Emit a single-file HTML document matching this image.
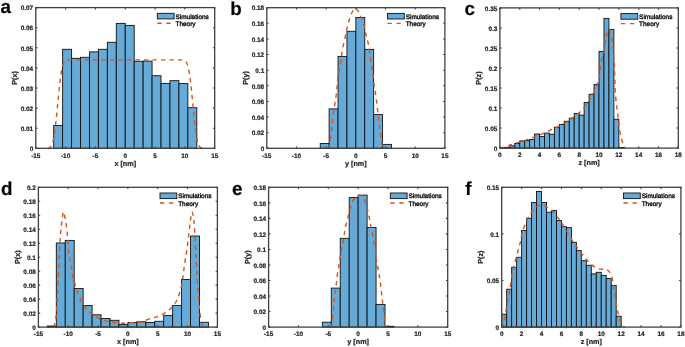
<!DOCTYPE html>
<html><head><meta charset="utf-8"><style>
html,body{margin:0;padding:0;background:#fff;}
body{width:685px;height:347px;overflow:hidden;}
svg{display:block;will-change:transform;filter:blur(0.45px);}
text{font-family:"Liberation Sans", sans-serif;fill:#262626;stroke:#262626;stroke-width:0.22px;text-rendering:geometricPrecision;}
.t{font-size:6.4px;font-weight:bold;}
.l{font-size:7.25px;font-weight:bold;}
.g{font-size:6.45px;font-weight:normal;fill:#111;stroke:#111;stroke-width:0.38px;}
.L{font-size:18.8px;font-weight:bold;fill:#000;}
</style></head><body>
<svg width="685" height="347" viewBox="0 0 685 347">
<rect width="685" height="347" fill="#fff"/>
<rect x="53.69" y="125.50" width="8.94" height="22.80" fill="#66aad7" stroke="#111" stroke-width="0.9"/>
<rect x="62.63" y="49.30" width="8.95" height="99.00" fill="#66aad7" stroke="#111" stroke-width="0.9"/>
<rect x="71.58" y="58.30" width="8.94" height="90.00" fill="#66aad7" stroke="#111" stroke-width="0.9"/>
<rect x="80.52" y="57.30" width="8.95" height="91.00" fill="#66aad7" stroke="#111" stroke-width="0.9"/>
<rect x="89.47" y="51.90" width="8.94" height="96.40" fill="#66aad7" stroke="#111" stroke-width="0.9"/>
<rect x="98.41" y="49.30" width="8.95" height="99.00" fill="#66aad7" stroke="#111" stroke-width="0.9"/>
<rect x="107.36" y="42.30" width="8.94" height="106.00" fill="#66aad7" stroke="#111" stroke-width="0.9"/>
<rect x="116.30" y="23.40" width="8.94" height="124.90" fill="#66aad7" stroke="#111" stroke-width="0.9"/>
<rect x="125.25" y="25.40" width="8.95" height="122.90" fill="#66aad7" stroke="#111" stroke-width="0.9"/>
<rect x="134.19" y="61.30" width="8.94" height="87.00" fill="#66aad7" stroke="#111" stroke-width="0.9"/>
<rect x="143.14" y="61.10" width="8.94" height="87.20" fill="#66aad7" stroke="#111" stroke-width="0.9"/>
<rect x="152.08" y="75.70" width="8.94" height="72.60" fill="#66aad7" stroke="#111" stroke-width="0.9"/>
<rect x="161.03" y="83.40" width="8.94" height="64.90" fill="#66aad7" stroke="#111" stroke-width="0.9"/>
<rect x="169.97" y="80.70" width="8.95" height="67.60" fill="#66aad7" stroke="#111" stroke-width="0.9"/>
<rect x="178.92" y="83.60" width="8.94" height="64.70" fill="#66aad7" stroke="#111" stroke-width="0.9"/>
<rect x="187.87" y="107.70" width="8.94" height="40.60" fill="#66aad7" stroke="#111" stroke-width="0.9"/>
<path d="M47.73,148.17 C47.83,148.16 48.12,148.12 48.32,148.08 C48.52,148.03 48.72,147.99 48.92,147.92 C49.12,147.85 49.32,147.77 49.52,147.66 C49.71,147.55 49.91,147.43 50.11,147.27 C50.31,147.10 50.51,146.92 50.71,146.68 C50.91,146.44 51.11,146.17 51.30,145.82 C51.50,145.48 51.70,145.09 51.90,144.62 C52.10,144.15 52.30,143.61 52.50,142.98 C52.70,142.35 52.89,141.64 53.09,140.82 C53.29,140.00 53.49,139.09 53.69,138.06 C53.89,137.03 54.09,135.90 54.29,134.65 C54.49,133.40 54.68,132.03 54.88,130.55 C55.08,129.08 55.28,127.48 55.48,125.80 C55.68,124.12 55.88,122.32 56.08,120.45 C56.27,118.59 56.47,116.62 56.67,114.63 C56.87,112.63 57.07,110.55 57.27,108.48 C57.47,106.41 57.67,104.28 57.86,102.19 C58.06,100.10 58.26,98.00 58.46,95.96 C58.66,93.93 58.86,91.91 59.06,89.99 C59.26,88.06 59.45,86.19 59.65,84.43 C59.85,82.67 60.05,80.99 60.25,79.43 C60.45,77.87 60.65,76.41 60.85,75.07 C61.04,73.73 61.24,72.50 61.44,71.38 C61.64,70.27 61.84,69.27 62.04,68.37 C62.24,67.47 62.44,66.68 62.63,65.98 C62.83,65.27 63.03,64.67 63.23,64.14 C63.43,63.61 63.63,63.16 63.83,62.77 C64.03,62.38 64.23,62.07 64.42,61.79 C64.62,61.51 64.82,61.29 65.02,61.10 C65.22,60.91 65.42,60.76 65.62,60.64 C65.82,60.51 66.01,60.41 66.21,60.33 C66.41,60.25 66.61,60.19 66.81,60.14 C67.01,60.09 67.21,60.05 67.41,60.02 C67.60,59.99 67.80,59.97 68.00,59.95 C68.20,59.93 68.40,59.92 68.60,59.91 C68.80,59.90 69.00,59.89 69.19,59.89 C69.39,59.88 69.59,59.88 69.79,59.87 C69.99,59.87 70.19,59.87 70.39,59.87 C70.59,59.86 70.78,59.86 70.98,59.86 C71.18,59.86 71.38,59.86 71.58,59.86 C71.78,59.86 71.98,59.86 72.18,59.86 C72.38,59.86 72.57,59.86 72.77,59.86 C72.97,59.86 73.17,59.86 73.37,59.86 C73.57,59.86 73.77,59.86 73.97,59.86 C74.16,59.86 74.36,59.86 74.56,59.86 C74.76,59.86 74.96,59.86 75.16,59.86 C75.36,59.86 75.56,59.86 75.75,59.86 C75.95,59.86 76.15,59.86 76.35,59.86 C76.55,59.86 76.75,59.86 76.95,59.86 C77.15,59.86 77.34,59.86 77.54,59.86 C77.74,59.86 77.94,59.86 78.14,59.86 C78.34,59.86 78.54,59.86 78.74,59.86 C78.93,59.86 79.13,59.86 79.33,59.86 C79.53,59.86 79.73,59.86 79.93,59.86 C80.13,59.86 80.33,59.86 80.52,59.86 C80.72,59.86 80.92,59.86 81.12,59.86 C81.32,59.86 81.52,59.86 81.72,59.86 C81.92,59.86 82.12,59.86 82.31,59.86 C82.51,59.86 82.71,59.86 82.91,59.86 C83.11,59.86 83.31,59.86 83.51,59.86 C83.71,59.86 83.90,59.86 84.10,59.86 C84.30,59.86 84.50,59.86 84.70,59.86 C84.90,59.86 85.10,59.86 85.30,59.86 C85.49,59.86 85.69,59.86 85.89,59.86 C86.09,59.86 86.29,59.86 86.49,59.86 C86.69,59.86 86.89,59.86 87.08,59.86 C87.28,59.86 87.48,59.86 87.68,59.86 C87.88,59.86 88.08,59.86 88.28,59.86 C88.48,59.86 88.67,59.86 88.87,59.86 C89.07,59.86 89.27,59.86 89.47,59.86 C89.67,59.86 89.87,59.86 90.07,59.86 C90.27,59.86 90.46,59.86 90.66,59.86 C90.86,59.86 91.06,59.86 91.26,59.86 C91.46,59.86 91.66,59.86 91.86,59.86 C92.05,59.86 92.25,59.86 92.45,59.86 C92.65,59.86 92.85,59.86 93.05,59.86 C93.25,59.86 93.45,59.86 93.64,59.86 C93.84,59.86 94.04,59.86 94.24,59.86 C94.44,59.86 94.64,59.86 94.84,59.86 C95.04,59.86 95.23,59.86 95.43,59.86 C95.63,59.86 95.83,59.86 96.03,59.86 C96.23,59.86 96.43,59.86 96.63,59.86 C96.82,59.86 97.02,59.86 97.22,59.86 C97.42,59.86 97.62,59.86 97.82,59.86 C98.02,59.86 98.22,59.86 98.41,59.86 C98.61,59.86 98.81,59.86 99.01,59.86 C99.21,59.86 99.41,59.86 99.61,59.86 C99.81,59.86 100.01,59.86 100.20,59.86 C100.40,59.86 100.60,59.86 100.80,59.86 C101.00,59.86 101.20,59.86 101.40,59.86 C101.60,59.86 101.79,59.86 101.99,59.86 C102.19,59.86 102.39,59.86 102.59,59.86 C102.79,59.86 102.99,59.86 103.19,59.86 C103.38,59.86 103.58,59.86 103.78,59.86 C103.98,59.86 104.18,59.86 104.38,59.86 C104.58,59.86 104.78,59.86 104.97,59.86 C105.17,59.86 105.37,59.86 105.57,59.86 C105.77,59.86 105.97,59.86 106.17,59.86 C106.37,59.86 106.56,59.86 106.76,59.86 C106.96,59.86 107.16,59.86 107.36,59.86 C107.56,59.86 107.76,59.86 107.96,59.86 C108.16,59.86 108.35,59.86 108.55,59.86 C108.75,59.86 108.95,59.86 109.15,59.86 C109.35,59.86 109.55,59.86 109.75,59.86 C109.94,59.86 110.14,59.86 110.34,59.86 C110.54,59.86 110.74,59.86 110.94,59.86 C111.14,59.86 111.34,59.86 111.53,59.86 C111.73,59.86 111.93,59.86 112.13,59.86 C112.33,59.86 112.53,59.86 112.73,59.86 C112.93,59.86 113.12,59.86 113.32,59.86 C113.52,59.86 113.72,59.86 113.92,59.86 C114.12,59.86 114.32,59.86 114.52,59.86 C114.71,59.86 114.91,59.86 115.11,59.86 C115.31,59.86 115.51,59.86 115.71,59.86 C115.91,59.86 116.11,59.86 116.30,59.86 C116.50,59.86 116.70,59.86 116.90,59.86 C117.10,59.86 117.30,59.86 117.50,59.86 C117.70,59.86 117.90,59.86 118.09,59.86 C118.29,59.86 118.49,59.86 118.69,59.86 C118.89,59.86 119.09,59.86 119.29,59.86 C119.49,59.86 119.68,59.86 119.88,59.86 C120.08,59.86 120.28,59.86 120.48,59.86 C120.68,59.86 120.88,59.86 121.08,59.86 C121.27,59.86 121.47,59.86 121.67,59.86 C121.87,59.86 122.07,59.86 122.27,59.86 C122.47,59.86 122.67,59.86 122.86,59.86 C123.06,59.86 123.26,59.86 123.46,59.86 C123.66,59.86 123.86,59.86 124.06,59.86 C124.26,59.86 124.45,59.86 124.65,59.86 C124.85,59.86 125.05,59.86 125.25,59.86 C125.45,59.86 125.65,59.86 125.85,59.86 C126.05,59.86 126.24,59.86 126.44,59.86 C126.64,59.86 126.84,59.86 127.04,59.86 C127.24,59.86 127.44,59.86 127.64,59.86 C127.83,59.86 128.03,59.86 128.23,59.86 C128.43,59.86 128.63,59.86 128.83,59.86 C129.03,59.86 129.23,59.86 129.42,59.86 C129.62,59.86 129.82,59.86 130.02,59.86 C130.22,59.86 130.42,59.86 130.62,59.86 C130.82,59.86 131.01,59.86 131.21,59.86 C131.41,59.86 131.61,59.86 131.81,59.86 C132.01,59.86 132.21,59.86 132.41,59.86 C132.60,59.86 132.80,59.86 133.00,59.86 C133.20,59.86 133.40,59.86 133.60,59.86 C133.80,59.86 134.00,59.86 134.19,59.86 C134.39,59.86 134.59,59.86 134.79,59.86 C134.99,59.86 135.19,59.86 135.39,59.86 C135.59,59.86 135.79,59.86 135.98,59.86 C136.18,59.86 136.38,59.86 136.58,59.86 C136.78,59.86 136.98,59.86 137.18,59.86 C137.38,59.86 137.57,59.86 137.77,59.86 C137.97,59.86 138.17,59.86 138.37,59.86 C138.57,59.86 138.77,59.86 138.97,59.86 C139.16,59.86 139.36,59.86 139.56,59.86 C139.76,59.86 139.96,59.86 140.16,59.86 C140.36,59.86 140.56,59.86 140.75,59.86 C140.95,59.86 141.15,59.86 141.35,59.86 C141.55,59.86 141.75,59.86 141.95,59.86 C142.15,59.86 142.34,59.86 142.54,59.86 C142.74,59.86 142.94,59.86 143.14,59.86 C143.34,59.86 143.54,59.86 143.74,59.86 C143.94,59.86 144.13,59.86 144.33,59.86 C144.53,59.86 144.73,59.86 144.93,59.86 C145.13,59.86 145.33,59.86 145.53,59.86 C145.72,59.86 145.92,59.86 146.12,59.86 C146.32,59.86 146.52,59.86 146.72,59.86 C146.92,59.86 147.12,59.86 147.31,59.86 C147.51,59.86 147.71,59.86 147.91,59.86 C148.11,59.86 148.31,59.86 148.51,59.86 C148.71,59.86 148.90,59.86 149.10,59.86 C149.30,59.86 149.50,59.86 149.70,59.86 C149.90,59.86 150.10,59.86 150.30,59.86 C150.49,59.86 150.69,59.86 150.89,59.86 C151.09,59.86 151.29,59.86 151.49,59.86 C151.69,59.86 151.89,59.86 152.08,59.86 C152.28,59.86 152.48,59.86 152.68,59.86 C152.88,59.86 153.08,59.86 153.28,59.86 C153.48,59.86 153.68,59.86 153.87,59.86 C154.07,59.86 154.27,59.86 154.47,59.86 C154.67,59.86 154.87,59.86 155.07,59.86 C155.27,59.86 155.46,59.86 155.66,59.86 C155.86,59.86 156.06,59.86 156.26,59.86 C156.46,59.86 156.66,59.86 156.86,59.86 C157.05,59.86 157.25,59.86 157.45,59.86 C157.65,59.86 157.85,59.86 158.05,59.86 C158.25,59.86 158.45,59.86 158.64,59.86 C158.84,59.86 159.04,59.86 159.24,59.86 C159.44,59.86 159.64,59.86 159.84,59.86 C160.04,59.86 160.23,59.86 160.43,59.86 C160.63,59.86 160.83,59.86 161.03,59.86 C161.23,59.86 161.43,59.86 161.63,59.86 C161.83,59.86 162.02,59.86 162.22,59.86 C162.42,59.86 162.62,59.86 162.82,59.86 C163.02,59.86 163.22,59.86 163.42,59.86 C163.61,59.86 163.81,59.86 164.01,59.86 C164.21,59.86 164.41,59.86 164.61,59.86 C164.81,59.86 165.01,59.86 165.20,59.86 C165.40,59.86 165.60,59.86 165.80,59.86 C166.00,59.86 166.20,59.86 166.40,59.86 C166.60,59.86 166.79,59.86 166.99,59.86 C167.19,59.86 167.39,59.86 167.59,59.86 C167.79,59.86 167.99,59.86 168.19,59.86 C168.38,59.86 168.58,59.86 168.78,59.86 C168.98,59.86 169.18,59.86 169.38,59.86 C169.58,59.86 169.78,59.86 169.97,59.86 C170.17,59.86 170.37,59.86 170.57,59.86 C170.77,59.86 170.97,59.86 171.17,59.86 C171.37,59.86 171.57,59.86 171.76,59.86 C171.96,59.86 172.16,59.86 172.36,59.86 C172.56,59.86 172.76,59.86 172.96,59.86 C173.16,59.86 173.35,59.86 173.55,59.86 C173.75,59.86 173.95,59.86 174.15,59.86 C174.35,59.86 174.55,59.86 174.75,59.86 C174.94,59.86 175.14,59.86 175.34,59.86 C175.54,59.86 175.74,59.86 175.94,59.86 C176.14,59.86 176.34,59.86 176.53,59.86 C176.73,59.86 176.93,59.86 177.13,59.86 C177.33,59.86 177.53,59.86 177.73,59.86 C177.93,59.86 178.12,59.86 178.32,59.86 C178.52,59.86 178.72,59.86 178.92,59.86 C179.12,59.86 179.32,59.86 179.52,59.86 C179.72,59.86 179.91,59.86 180.11,59.87 C180.31,59.87 180.51,59.87 180.71,59.87 C180.91,59.88 181.11,59.88 181.31,59.89 C181.50,59.89 181.70,59.90 181.90,59.91 C182.10,59.92 182.30,59.93 182.50,59.95 C182.70,59.97 182.90,59.99 183.09,60.02 C183.29,60.05 183.49,60.09 183.69,60.14 C183.89,60.19 184.09,60.25 184.29,60.33 C184.49,60.41 184.68,60.51 184.88,60.64 C185.08,60.76 185.28,60.91 185.48,61.10 C185.68,61.29 185.88,61.51 186.08,61.79 C186.27,62.07 186.47,62.38 186.67,62.77 C186.87,63.16 187.07,63.61 187.27,64.14 C187.47,64.67 187.67,65.27 187.86,65.98 C188.06,66.68 188.26,67.47 188.46,68.37 C188.66,69.27 188.86,70.27 189.06,71.38 C189.26,72.50 189.46,73.73 189.65,75.07 C189.85,76.41 190.05,77.87 190.25,79.43 C190.45,80.99 190.65,82.67 190.85,84.43 C191.05,86.19 191.24,88.06 191.44,89.99 C191.64,91.91 191.84,93.93 192.04,95.96 C192.24,98.00 192.44,100.10 192.64,102.19 C192.83,104.28 193.03,106.41 193.23,108.48 C193.43,110.55 193.63,112.63 193.83,114.63 C194.03,116.62 194.23,118.59 194.42,120.45 C194.62,122.32 194.82,124.12 195.02,125.80 C195.22,127.48 195.42,129.08 195.62,130.55 C195.82,132.03 196.01,133.40 196.21,134.65 C196.41,135.90 196.61,137.03 196.81,138.06 C197.01,139.09 197.21,140.00 197.41,140.82 C197.61,141.64 197.80,142.35 198.00,142.98 C198.20,143.61 198.40,144.15 198.60,144.62 C198.80,145.09 199.00,145.48 199.20,145.82 C199.39,146.17 199.59,146.44 199.79,146.68 C199.99,146.92 200.19,147.10 200.39,147.27 C200.59,147.43 200.79,147.55 200.98,147.66 C201.18,147.77 201.38,147.85 201.58,147.92 C201.78,147.99 201.98,148.03 202.18,148.08 C202.38,148.12 202.67,148.16 202.77,148.17" fill="none" stroke="#d9531a" stroke-width="1.4" stroke-dasharray="4.4 4.1"/>
<rect x="35.80" y="7.60" width="178.90" height="140.70" fill="none" stroke="#404040" stroke-width="1.3"/>
<path d="M35.80,148.30v-1.8M35.80,7.60v1.8" stroke="#404040" stroke-width="1.1"/>
<text x="35.80" y="157.60" text-anchor="middle" class="t">-15</text>
<path d="M65.62,148.30v-1.8M65.62,7.60v1.8" stroke="#404040" stroke-width="1.1"/>
<text x="65.62" y="157.60" text-anchor="middle" class="t">-10</text>
<path d="M95.43,148.30v-1.8M95.43,7.60v1.8" stroke="#404040" stroke-width="1.1"/>
<text x="95.43" y="157.60" text-anchor="middle" class="t">-5</text>
<path d="M125.25,148.30v-1.8M125.25,7.60v1.8" stroke="#404040" stroke-width="1.1"/>
<text x="125.25" y="157.60" text-anchor="middle" class="t">0</text>
<path d="M155.07,148.30v-1.8M155.07,7.60v1.8" stroke="#404040" stroke-width="1.1"/>
<text x="155.07" y="157.60" text-anchor="middle" class="t">5</text>
<path d="M184.88,148.30v-1.8M184.88,7.60v1.8" stroke="#404040" stroke-width="1.1"/>
<text x="184.88" y="157.60" text-anchor="middle" class="t">10</text>
<path d="M214.70,148.30v-1.8M214.70,7.60v1.8" stroke="#404040" stroke-width="1.1"/>
<text x="214.70" y="157.60" text-anchor="middle" class="t">15</text>
<path d="M35.80,148.30h1.8M214.70,148.30h-1.8" stroke="#404040" stroke-width="1.1"/>
<text x="33.20" y="151.00" text-anchor="end" class="t">0</text>
<path d="M35.80,128.20h1.8M214.70,128.20h-1.8" stroke="#404040" stroke-width="1.1"/>
<text x="33.20" y="130.90" text-anchor="end" class="t">0.01</text>
<path d="M35.80,108.10h1.8M214.70,108.10h-1.8" stroke="#404040" stroke-width="1.1"/>
<text x="33.20" y="110.80" text-anchor="end" class="t">0.02</text>
<path d="M35.80,88.00h1.8M214.70,88.00h-1.8" stroke="#404040" stroke-width="1.1"/>
<text x="33.20" y="90.70" text-anchor="end" class="t">0.03</text>
<path d="M35.80,67.90h1.8M214.70,67.90h-1.8" stroke="#404040" stroke-width="1.1"/>
<text x="33.20" y="70.60" text-anchor="end" class="t">0.04</text>
<path d="M35.80,47.80h1.8M214.70,47.80h-1.8" stroke="#404040" stroke-width="1.1"/>
<text x="33.20" y="50.50" text-anchor="end" class="t">0.05</text>
<path d="M35.80,27.70h1.8M214.70,27.70h-1.8" stroke="#404040" stroke-width="1.1"/>
<text x="33.20" y="30.40" text-anchor="end" class="t">0.06</text>
<path d="M35.80,7.60h1.8M214.70,7.60h-1.8" stroke="#404040" stroke-width="1.1"/>
<text x="33.20" y="10.30" text-anchor="end" class="t">0.07</text>
<text x="125.25" y="165.60" text-anchor="middle" class="l">x [nm]</text>
<text transform="translate(17.30,77.95) rotate(-90)" x="0" y="0" text-anchor="middle" class="l">P(x)</text>
<rect x="157.30" y="13.30" width="16.8" height="5.6" fill="#66aad7" stroke="#111" stroke-width="0.9"/>
<path d="M157.30,23.30h13.3" stroke="#d9531a" stroke-width="1.4" stroke-dasharray="4.3 4.7"/>
<text x="175.50" y="18.50" class="g">Simulations</text>
<text x="175.50" y="25.80" class="g">Theory</text>
<text x="0.40" y="12.60" class="L">a</text>
<rect x="320.23" y="143.50" width="8.90" height="4.80" fill="#66aad7" stroke="#111" stroke-width="0.9"/>
<rect x="329.13" y="108.90" width="8.90" height="39.40" fill="#66aad7" stroke="#111" stroke-width="0.9"/>
<rect x="338.04" y="56.40" width="8.91" height="91.90" fill="#66aad7" stroke="#111" stroke-width="0.9"/>
<rect x="346.94" y="31.30" width="8.91" height="117.00" fill="#66aad7" stroke="#111" stroke-width="0.9"/>
<rect x="355.85" y="17.50" width="8.90" height="130.80" fill="#66aad7" stroke="#111" stroke-width="0.9"/>
<rect x="364.75" y="49.40" width="8.90" height="98.90" fill="#66aad7" stroke="#111" stroke-width="0.9"/>
<rect x="373.66" y="114.60" width="8.91" height="33.70" fill="#66aad7" stroke="#111" stroke-width="0.9"/>
<rect x="382.56" y="144.40" width="8.90" height="3.90" fill="#66aad7" stroke="#111" stroke-width="0.9"/>
<path d="M328.60,148.30 C328.73,147.83 329.00,147.93 329.40,145.50 C329.80,143.07 330.52,137.43 331.00,133.70 C331.48,129.97 331.87,126.62 332.30,123.10 C332.73,119.58 332.92,117.53 333.60,112.60 C334.28,107.67 335.75,98.82 336.40,93.50 C337.05,88.18 337.12,84.20 337.50,80.70 C337.88,77.20 338.22,75.42 338.70,72.50 C339.18,69.58 339.92,66.02 340.40,63.20 C340.88,60.38 341.20,58.13 341.60,55.60 C342.00,53.07 342.22,51.02 342.80,48.00 C343.38,44.98 344.42,40.70 345.10,37.50 C345.78,34.30 346.22,31.72 346.90,28.80 C347.58,25.88 348.27,22.88 349.20,20.00 C350.13,17.12 351.45,13.43 352.50,11.50 C353.55,9.57 354.33,8.07 355.50,8.40 C356.67,8.73 358.12,10.78 359.50,13.50 C360.88,16.22 362.70,21.08 363.80,24.70 C364.90,28.32 365.32,31.90 366.10,35.20 C366.88,38.50 367.82,40.95 368.50,44.50 C369.18,48.05 369.62,52.62 370.20,56.50 C370.78,60.38 371.52,64.45 372.00,67.80 C372.48,71.15 372.72,73.48 373.10,76.60 C373.48,79.72 373.90,83.68 374.30,86.50 C374.70,89.32 374.93,89.47 375.50,93.50 C376.07,97.53 377.12,105.77 377.70,110.70 C378.28,115.63 378.57,119.27 379.00,123.10 C379.43,126.93 379.80,130.18 380.30,133.70 C380.80,137.22 381.62,141.77 382.00,144.20 C382.38,146.63 382.50,147.62 382.60,148.30" fill="none" stroke="#d9531a" stroke-width="1.4" stroke-dasharray="4.4 4.1"/>
<rect x="266.80" y="7.70" width="178.10" height="140.60" fill="none" stroke="#404040" stroke-width="1.3"/>
<path d="M266.80,148.30v-1.8M266.80,7.70v1.8" stroke="#404040" stroke-width="1.1"/>
<text x="266.80" y="157.60" text-anchor="middle" class="t">-15</text>
<path d="M296.48,148.30v-1.8M296.48,7.70v1.8" stroke="#404040" stroke-width="1.1"/>
<text x="296.48" y="157.60" text-anchor="middle" class="t">-10</text>
<path d="M326.17,148.30v-1.8M326.17,7.70v1.8" stroke="#404040" stroke-width="1.1"/>
<text x="326.17" y="157.60" text-anchor="middle" class="t">-5</text>
<path d="M355.85,148.30v-1.8M355.85,7.70v1.8" stroke="#404040" stroke-width="1.1"/>
<text x="355.85" y="157.60" text-anchor="middle" class="t">0</text>
<path d="M385.53,148.30v-1.8M385.53,7.70v1.8" stroke="#404040" stroke-width="1.1"/>
<text x="385.53" y="157.60" text-anchor="middle" class="t">5</text>
<path d="M415.22,148.30v-1.8M415.22,7.70v1.8" stroke="#404040" stroke-width="1.1"/>
<text x="415.22" y="157.60" text-anchor="middle" class="t">10</text>
<path d="M444.90,148.30v-1.8M444.90,7.70v1.8" stroke="#404040" stroke-width="1.1"/>
<text x="444.90" y="157.60" text-anchor="middle" class="t">15</text>
<path d="M266.80,148.30h1.8M444.90,148.30h-1.8" stroke="#404040" stroke-width="1.1"/>
<text x="264.20" y="151.00" text-anchor="end" class="t">0</text>
<path d="M266.80,132.68h1.8M444.90,132.68h-1.8" stroke="#404040" stroke-width="1.1"/>
<text x="264.20" y="135.38" text-anchor="end" class="t">0.02</text>
<path d="M266.80,117.06h1.8M444.90,117.06h-1.8" stroke="#404040" stroke-width="1.1"/>
<text x="264.20" y="119.76" text-anchor="end" class="t">0.04</text>
<path d="M266.80,101.43h1.8M444.90,101.43h-1.8" stroke="#404040" stroke-width="1.1"/>
<text x="264.20" y="104.13" text-anchor="end" class="t">0.06</text>
<path d="M266.80,85.81h1.8M444.90,85.81h-1.8" stroke="#404040" stroke-width="1.1"/>
<text x="264.20" y="88.51" text-anchor="end" class="t">0.08</text>
<path d="M266.80,70.19h1.8M444.90,70.19h-1.8" stroke="#404040" stroke-width="1.1"/>
<text x="264.20" y="72.89" text-anchor="end" class="t">0.1</text>
<path d="M266.80,54.57h1.8M444.90,54.57h-1.8" stroke="#404040" stroke-width="1.1"/>
<text x="264.20" y="57.27" text-anchor="end" class="t">0.12</text>
<path d="M266.80,38.94h1.8M444.90,38.94h-1.8" stroke="#404040" stroke-width="1.1"/>
<text x="264.20" y="41.64" text-anchor="end" class="t">0.14</text>
<path d="M266.80,23.32h1.8M444.90,23.32h-1.8" stroke="#404040" stroke-width="1.1"/>
<text x="264.20" y="26.02" text-anchor="end" class="t">0.16</text>
<path d="M266.80,7.70h1.8M444.90,7.70h-1.8" stroke="#404040" stroke-width="1.1"/>
<text x="264.20" y="10.40" text-anchor="end" class="t">0.18</text>
<text x="355.85" y="165.60" text-anchor="middle" class="l">y [nm]</text>
<text transform="translate(248.30,78.00) rotate(-90)" x="0" y="0" text-anchor="middle" class="l">P(y)</text>
<rect x="387.50" y="13.40" width="16.8" height="5.6" fill="#66aad7" stroke="#111" stroke-width="0.9"/>
<path d="M387.50,23.40h13.3" stroke="#d9531a" stroke-width="1.4" stroke-dasharray="4.3 4.7"/>
<text x="405.70" y="18.60" class="g">Simulations</text>
<text x="405.70" y="25.90" class="g">Theory</text>
<text x="230.20" y="14.80" class="L">b</text>
<rect x="499.90" y="148.10" width="4.96" height="0.05" fill="#66aad7" stroke="#111" stroke-width="0.9"/>
<rect x="504.86" y="147.30" width="4.96" height="0.80" fill="#66aad7" stroke="#111" stroke-width="0.9"/>
<rect x="509.81" y="145.80" width="4.96" height="2.30" fill="#66aad7" stroke="#111" stroke-width="0.9"/>
<rect x="514.77" y="143.50" width="4.96" height="4.60" fill="#66aad7" stroke="#111" stroke-width="0.9"/>
<rect x="519.72" y="140.90" width="4.96" height="7.20" fill="#66aad7" stroke="#111" stroke-width="0.9"/>
<rect x="524.68" y="140.60" width="4.96" height="7.50" fill="#66aad7" stroke="#111" stroke-width="0.9"/>
<rect x="529.63" y="139.40" width="4.96" height="8.70" fill="#66aad7" stroke="#111" stroke-width="0.9"/>
<rect x="534.59" y="134.00" width="4.96" height="14.10" fill="#66aad7" stroke="#111" stroke-width="0.9"/>
<rect x="539.54" y="136.60" width="4.96" height="11.50" fill="#66aad7" stroke="#111" stroke-width="0.9"/>
<rect x="544.50" y="133.10" width="4.96" height="15.00" fill="#66aad7" stroke="#111" stroke-width="0.9"/>
<rect x="549.46" y="134.25" width="4.96" height="13.85" fill="#66aad7" stroke="#111" stroke-width="0.9"/>
<rect x="554.41" y="127.20" width="4.96" height="20.90" fill="#66aad7" stroke="#111" stroke-width="0.9"/>
<rect x="559.37" y="124.50" width="4.96" height="23.60" fill="#66aad7" stroke="#111" stroke-width="0.9"/>
<rect x="564.32" y="121.30" width="4.96" height="26.80" fill="#66aad7" stroke="#111" stroke-width="0.9"/>
<rect x="569.28" y="118.20" width="4.96" height="29.90" fill="#66aad7" stroke="#111" stroke-width="0.9"/>
<rect x="574.23" y="113.40" width="4.96" height="34.70" fill="#66aad7" stroke="#111" stroke-width="0.9"/>
<rect x="579.19" y="115.10" width="4.96" height="33.00" fill="#66aad7" stroke="#111" stroke-width="0.9"/>
<rect x="584.14" y="102.50" width="4.96" height="45.60" fill="#66aad7" stroke="#111" stroke-width="0.9"/>
<rect x="589.10" y="94.30" width="4.96" height="53.80" fill="#66aad7" stroke="#111" stroke-width="0.9"/>
<rect x="594.06" y="84.40" width="4.96" height="63.70" fill="#66aad7" stroke="#111" stroke-width="0.9"/>
<rect x="599.01" y="51.50" width="4.96" height="96.60" fill="#66aad7" stroke="#111" stroke-width="0.9"/>
<rect x="603.97" y="18.40" width="4.96" height="129.70" fill="#66aad7" stroke="#111" stroke-width="0.9"/>
<rect x="608.92" y="29.40" width="4.96" height="118.70" fill="#66aad7" stroke="#111" stroke-width="0.9"/>
<rect x="613.88" y="119.20" width="4.96" height="28.90" fill="#66aad7" stroke="#111" stroke-width="0.9"/>
<rect x="618.83" y="147.60" width="4.96" height="0.50" fill="#66aad7" stroke="#111" stroke-width="0.9"/>
<path d="M499.90,148.10 C500.35,148.00 501.00,147.98 502.60,147.50 C504.20,147.02 507.18,145.97 509.50,145.20 C511.82,144.43 513.80,143.73 516.50,142.90 C519.20,142.07 522.92,141.13 525.70,140.20 C528.48,139.27 530.52,138.30 533.20,137.30 C535.88,136.30 539.17,135.28 541.80,134.20 C544.43,133.12 546.52,131.95 549.00,130.80 C551.48,129.65 554.25,128.48 556.70,127.30 C559.15,126.12 561.28,125.13 563.70,123.70 C566.12,122.27 568.80,120.35 571.20,118.70 C573.60,117.05 576.00,115.62 578.10,113.80 C580.20,111.98 582.03,109.90 583.80,107.80 C585.57,105.70 587.08,103.65 588.70,101.20 C590.32,98.75 592.13,95.80 593.50,93.10 C594.87,90.40 595.92,87.77 596.90,85.00 C597.88,82.23 598.67,80.45 599.40,76.50 C600.13,72.55 600.58,65.17 601.30,61.30 C602.02,57.43 603.12,56.08 603.70,53.30 C604.28,50.52 604.37,47.40 604.80,44.60 C605.23,41.80 605.65,39.10 606.30,36.50 C606.95,33.90 607.83,28.80 608.70,29.00 C609.57,29.20 610.83,35.00 611.50,37.70 C612.17,40.40 612.37,42.52 612.70,45.20 C613.03,47.88 613.23,51.02 613.50,53.80 C613.77,56.58 614.08,57.87 614.30,61.90 C614.52,65.93 614.60,72.48 614.80,78.00 C615.00,83.52 615.05,89.28 615.50,95.00 C615.95,100.72 616.88,106.92 617.50,112.30 C618.12,117.68 618.53,122.88 619.20,127.30 C619.87,131.72 620.63,135.53 621.50,138.80 C622.37,142.07 623.73,145.35 624.40,146.90 C625.07,148.45 625.32,147.90 625.50,148.10" fill="none" stroke="#d9531a" stroke-width="1.4" stroke-dasharray="4.4 4.1"/>
<rect x="499.90" y="7.90" width="178.40" height="140.20" fill="none" stroke="#404040" stroke-width="1.3"/>
<path d="M499.90,148.10v-1.8M499.90,7.90v1.8" stroke="#404040" stroke-width="1.1"/>
<text x="499.90" y="157.40" text-anchor="middle" class="t">0</text>
<path d="M519.72,148.10v-1.8M519.72,7.90v1.8" stroke="#404040" stroke-width="1.1"/>
<text x="519.72" y="157.40" text-anchor="middle" class="t">2</text>
<path d="M539.54,148.10v-1.8M539.54,7.90v1.8" stroke="#404040" stroke-width="1.1"/>
<text x="539.54" y="157.40" text-anchor="middle" class="t">4</text>
<path d="M559.37,148.10v-1.8M559.37,7.90v1.8" stroke="#404040" stroke-width="1.1"/>
<text x="559.37" y="157.40" text-anchor="middle" class="t">6</text>
<path d="M579.19,148.10v-1.8M579.19,7.90v1.8" stroke="#404040" stroke-width="1.1"/>
<text x="579.19" y="157.40" text-anchor="middle" class="t">8</text>
<path d="M599.01,148.10v-1.8M599.01,7.90v1.8" stroke="#404040" stroke-width="1.1"/>
<text x="599.01" y="157.40" text-anchor="middle" class="t">10</text>
<path d="M618.83,148.10v-1.8M618.83,7.90v1.8" stroke="#404040" stroke-width="1.1"/>
<text x="618.83" y="157.40" text-anchor="middle" class="t">12</text>
<path d="M638.66,148.10v-1.8M638.66,7.90v1.8" stroke="#404040" stroke-width="1.1"/>
<text x="638.66" y="157.40" text-anchor="middle" class="t">14</text>
<path d="M658.48,148.10v-1.8M658.48,7.90v1.8" stroke="#404040" stroke-width="1.1"/>
<text x="658.48" y="157.40" text-anchor="middle" class="t">16</text>
<path d="M678.30,148.10v-1.8M678.30,7.90v1.8" stroke="#404040" stroke-width="1.1"/>
<text x="678.30" y="157.40" text-anchor="middle" class="t">18</text>
<path d="M499.90,148.10h1.8M678.30,148.10h-1.8" stroke="#404040" stroke-width="1.1"/>
<text x="497.30" y="150.80" text-anchor="end" class="t">0</text>
<path d="M499.90,128.07h1.8M678.30,128.07h-1.8" stroke="#404040" stroke-width="1.1"/>
<text x="497.30" y="130.77" text-anchor="end" class="t">0.05</text>
<path d="M499.90,108.04h1.8M678.30,108.04h-1.8" stroke="#404040" stroke-width="1.1"/>
<text x="497.30" y="110.74" text-anchor="end" class="t">0.1</text>
<path d="M499.90,88.01h1.8M678.30,88.01h-1.8" stroke="#404040" stroke-width="1.1"/>
<text x="497.30" y="90.71" text-anchor="end" class="t">0.15</text>
<path d="M499.90,67.99h1.8M678.30,67.99h-1.8" stroke="#404040" stroke-width="1.1"/>
<text x="497.30" y="70.69" text-anchor="end" class="t">0.2</text>
<path d="M499.90,47.96h1.8M678.30,47.96h-1.8" stroke="#404040" stroke-width="1.1"/>
<text x="497.30" y="50.66" text-anchor="end" class="t">0.25</text>
<path d="M499.90,27.93h1.8M678.30,27.93h-1.8" stroke="#404040" stroke-width="1.1"/>
<text x="497.30" y="30.63" text-anchor="end" class="t">0.3</text>
<path d="M499.90,7.90h1.8M678.30,7.90h-1.8" stroke="#404040" stroke-width="1.1"/>
<text x="497.30" y="10.60" text-anchor="end" class="t">0.35</text>
<text x="589.10" y="165.40" text-anchor="middle" class="l">z [nm]</text>
<text transform="translate(481.40,78.00) rotate(-90)" x="0" y="0" text-anchor="middle" class="l">P(z)</text>
<rect x="620.90" y="13.60" width="16.8" height="5.6" fill="#66aad7" stroke="#111" stroke-width="0.9"/>
<path d="M620.90,23.60h13.3" stroke="#d9531a" stroke-width="1.4" stroke-dasharray="4.3 4.7"/>
<text x="639.10" y="18.80" class="g">Simulations</text>
<text x="639.10" y="26.10" class="g">Theory</text>
<text x="464.50" y="15.00" class="L">c</text>
<rect x="47.35" y="326.00" width="8.95" height="1.10" fill="#66aad7" stroke="#111" stroke-width="0.9"/>
<rect x="56.30" y="243.00" width="8.95" height="84.10" fill="#66aad7" stroke="#111" stroke-width="0.9"/>
<rect x="65.25" y="240.40" width="8.95" height="86.70" fill="#66aad7" stroke="#111" stroke-width="0.9"/>
<rect x="74.20" y="288.50" width="8.95" height="38.60" fill="#66aad7" stroke="#111" stroke-width="0.9"/>
<rect x="83.15" y="305.50" width="8.95" height="21.60" fill="#66aad7" stroke="#111" stroke-width="0.9"/>
<rect x="92.10" y="314.80" width="8.95" height="12.30" fill="#66aad7" stroke="#111" stroke-width="0.9"/>
<rect x="101.05" y="318.50" width="8.95" height="8.60" fill="#66aad7" stroke="#111" stroke-width="0.9"/>
<rect x="110.00" y="320.30" width="8.95" height="6.80" fill="#66aad7" stroke="#111" stroke-width="0.9"/>
<rect x="118.95" y="324.60" width="8.95" height="2.50" fill="#66aad7" stroke="#111" stroke-width="0.9"/>
<rect x="127.90" y="322.50" width="8.95" height="4.60" fill="#66aad7" stroke="#111" stroke-width="0.9"/>
<rect x="136.85" y="321.80" width="8.95" height="5.30" fill="#66aad7" stroke="#111" stroke-width="0.9"/>
<rect x="145.80" y="322.50" width="8.95" height="4.60" fill="#66aad7" stroke="#111" stroke-width="0.9"/>
<rect x="154.75" y="321.30" width="8.95" height="5.80" fill="#66aad7" stroke="#111" stroke-width="0.9"/>
<rect x="163.70" y="315.40" width="8.95" height="11.70" fill="#66aad7" stroke="#111" stroke-width="0.9"/>
<rect x="172.65" y="305.50" width="8.95" height="21.60" fill="#66aad7" stroke="#111" stroke-width="0.9"/>
<rect x="181.60" y="279.50" width="8.95" height="47.60" fill="#66aad7" stroke="#111" stroke-width="0.9"/>
<rect x="190.55" y="236.00" width="8.95" height="91.10" fill="#66aad7" stroke="#111" stroke-width="0.9"/>
<rect x="199.50" y="322.30" width="8.95" height="4.80" fill="#66aad7" stroke="#111" stroke-width="0.9"/>
<path d="M53.30,327.10 C53.53,326.53 54.18,326.00 54.70,323.70 C55.22,321.40 55.97,317.92 56.40,313.30 C56.83,308.68 57.00,301.77 57.30,296.00 C57.60,290.23 57.88,285.03 58.20,278.70 C58.52,272.37 58.88,264.45 59.20,258.00 C59.52,251.55 59.82,244.62 60.10,240.00 C60.38,235.38 60.58,233.60 60.90,230.30 C61.22,227.00 61.55,223.27 62.00,220.20 C62.45,217.13 63.05,212.00 63.60,211.90 C64.15,211.80 64.80,217.02 65.30,219.60 C65.80,222.18 66.25,224.75 66.60,227.40 C66.95,230.05 67.12,232.05 67.40,235.50 C67.68,238.95 67.85,244.05 68.30,248.10 C68.75,252.15 69.52,256.33 70.10,259.80 C70.68,263.27 71.33,266.05 71.80,268.90 C72.27,271.75 72.37,274.33 72.90,276.90 C73.43,279.47 74.17,281.50 75.00,284.30 C75.83,287.10 76.82,290.82 77.90,293.70 C78.98,296.58 80.05,299.08 81.50,301.60 C82.95,304.12 84.92,306.75 86.60,308.80 C88.28,310.85 89.68,312.38 91.60,313.90 C93.52,315.42 95.70,316.70 98.10,317.90 C100.50,319.10 103.23,320.33 106.00,321.10 C108.77,321.87 111.82,322.15 114.70,322.50 C117.58,322.85 120.42,323.15 123.30,323.20 C126.18,323.25 129.12,322.98 132.00,322.80 C134.88,322.62 137.83,322.70 140.60,322.10 C143.37,321.50 145.82,320.10 148.60,319.20 C151.38,318.30 154.57,317.75 157.30,316.70 C160.03,315.65 162.42,314.63 165.00,312.90 C167.58,311.17 170.63,308.85 172.80,306.30 C174.97,303.75 176.55,301.05 178.00,297.60 C179.45,294.15 180.63,289.33 181.50,285.60 C182.37,281.87 182.75,278.32 183.20,275.20 C183.65,272.08 183.83,269.63 184.20,266.90 C184.57,264.17 184.92,261.87 185.40,258.80 C185.88,255.73 186.62,251.95 187.10,248.50 C187.58,245.05 187.92,241.35 188.30,238.10 C188.68,234.85 189.02,232.10 189.40,229.00 C189.78,225.90 190.15,222.33 190.60,219.50 C191.05,216.67 191.57,211.98 192.10,212.00 C192.63,212.02 193.38,216.60 193.80,219.60 C194.22,222.60 194.37,226.35 194.60,230.00 C194.83,233.65 195.00,237.65 195.20,241.50 C195.40,245.35 195.58,249.25 195.80,253.10 C196.02,256.95 196.27,260.35 196.50,264.60 C196.73,268.85 196.87,273.38 197.20,278.60 C197.53,283.82 198.10,290.72 198.50,295.90 C198.90,301.08 199.13,305.38 199.60,309.70 C200.07,314.02 200.82,318.90 201.30,321.80 C201.78,324.70 202.30,326.22 202.50,327.10" fill="none" stroke="#d9531a" stroke-width="1.4" stroke-dasharray="4.4 4.1"/>
<rect x="38.40" y="187.30" width="179.00" height="139.80" fill="none" stroke="#404040" stroke-width="1.3"/>
<path d="M38.40,327.10v-1.8M38.40,187.30v1.8" stroke="#404040" stroke-width="1.1"/>
<text x="38.40" y="336.40" text-anchor="middle" class="t">-15</text>
<path d="M68.23,327.10v-1.8M68.23,187.30v1.8" stroke="#404040" stroke-width="1.1"/>
<text x="68.23" y="336.40" text-anchor="middle" class="t">-10</text>
<path d="M98.07,327.10v-1.8M98.07,187.30v1.8" stroke="#404040" stroke-width="1.1"/>
<text x="98.07" y="336.40" text-anchor="middle" class="t">-5</text>
<path d="M127.90,327.10v-1.8M127.90,187.30v1.8" stroke="#404040" stroke-width="1.1"/>
<text x="127.90" y="336.40" text-anchor="middle" class="t">0</text>
<path d="M157.73,327.10v-1.8M157.73,187.30v1.8" stroke="#404040" stroke-width="1.1"/>
<text x="157.73" y="336.40" text-anchor="middle" class="t">5</text>
<path d="M187.57,327.10v-1.8M187.57,187.30v1.8" stroke="#404040" stroke-width="1.1"/>
<text x="187.57" y="336.40" text-anchor="middle" class="t">10</text>
<path d="M217.40,327.10v-1.8M217.40,187.30v1.8" stroke="#404040" stroke-width="1.1"/>
<text x="217.40" y="336.40" text-anchor="middle" class="t">15</text>
<path d="M38.40,327.10h1.8M217.40,327.10h-1.8" stroke="#404040" stroke-width="1.1"/>
<text x="35.80" y="329.80" text-anchor="end" class="t">0</text>
<path d="M38.40,313.12h1.8M217.40,313.12h-1.8" stroke="#404040" stroke-width="1.1"/>
<text x="35.80" y="315.82" text-anchor="end" class="t">0.02</text>
<path d="M38.40,299.14h1.8M217.40,299.14h-1.8" stroke="#404040" stroke-width="1.1"/>
<text x="35.80" y="301.84" text-anchor="end" class="t">0.04</text>
<path d="M38.40,285.16h1.8M217.40,285.16h-1.8" stroke="#404040" stroke-width="1.1"/>
<text x="35.80" y="287.86" text-anchor="end" class="t">0.06</text>
<path d="M38.40,271.18h1.8M217.40,271.18h-1.8" stroke="#404040" stroke-width="1.1"/>
<text x="35.80" y="273.88" text-anchor="end" class="t">0.08</text>
<path d="M38.40,257.20h1.8M217.40,257.20h-1.8" stroke="#404040" stroke-width="1.1"/>
<text x="35.80" y="259.90" text-anchor="end" class="t">0.1</text>
<path d="M38.40,243.22h1.8M217.40,243.22h-1.8" stroke="#404040" stroke-width="1.1"/>
<text x="35.80" y="245.92" text-anchor="end" class="t">0.12</text>
<path d="M38.40,229.24h1.8M217.40,229.24h-1.8" stroke="#404040" stroke-width="1.1"/>
<text x="35.80" y="231.94" text-anchor="end" class="t">0.14</text>
<path d="M38.40,215.26h1.8M217.40,215.26h-1.8" stroke="#404040" stroke-width="1.1"/>
<text x="35.80" y="217.96" text-anchor="end" class="t">0.16</text>
<path d="M38.40,201.28h1.8M217.40,201.28h-1.8" stroke="#404040" stroke-width="1.1"/>
<text x="35.80" y="203.98" text-anchor="end" class="t">0.18</text>
<path d="M38.40,187.30h1.8M217.40,187.30h-1.8" stroke="#404040" stroke-width="1.1"/>
<text x="35.80" y="190.00" text-anchor="end" class="t">0.2</text>
<text x="127.90" y="344.40" text-anchor="middle" class="l">x [nm]</text>
<text transform="translate(19.90,257.20) rotate(-90)" x="0" y="0" text-anchor="middle" class="l">P(x)</text>
<rect x="160.00" y="193.00" width="16.8" height="5.6" fill="#66aad7" stroke="#111" stroke-width="0.9"/>
<path d="M160.00,203.00h13.3" stroke="#d9531a" stroke-width="1.4" stroke-dasharray="4.3 4.7"/>
<text x="178.20" y="198.20" class="g">Simulations</text>
<text x="178.20" y="205.50" class="g">Theory</text>
<text x="0.90" y="194.90" class="L">d</text>
<rect x="322.33" y="322.20" width="8.95" height="4.90" fill="#66aad7" stroke="#111" stroke-width="0.9"/>
<rect x="331.29" y="288.10" width="8.95" height="39.00" fill="#66aad7" stroke="#111" stroke-width="0.9"/>
<rect x="340.24" y="238.30" width="8.95" height="88.80" fill="#66aad7" stroke="#111" stroke-width="0.9"/>
<rect x="349.19" y="197.60" width="8.95" height="129.50" fill="#66aad7" stroke="#111" stroke-width="0.9"/>
<rect x="358.15" y="195.10" width="8.96" height="132.00" fill="#66aad7" stroke="#111" stroke-width="0.9"/>
<rect x="367.11" y="227.50" width="8.95" height="99.60" fill="#66aad7" stroke="#111" stroke-width="0.9"/>
<rect x="376.06" y="304.40" width="8.95" height="22.70" fill="#66aad7" stroke="#111" stroke-width="0.9"/>
<rect x="385.01" y="326.30" width="8.96" height="0.80" fill="#66aad7" stroke="#111" stroke-width="0.9"/>
<path d="M331.20,327.10 C331.27,327.07 331.45,327.87 331.60,326.90 C331.75,325.93 331.80,324.12 332.10,321.30 C332.40,318.48 333.02,313.75 333.40,310.00 C333.78,306.25 333.98,302.55 334.40,298.80 C334.82,295.05 335.43,291.25 335.90,287.50 C336.37,283.75 336.73,279.80 337.20,276.30 C337.67,272.80 338.25,269.40 338.70,266.50 C339.15,263.60 339.47,261.60 339.90,258.90 C340.33,256.20 340.77,253.18 341.30,250.30 C341.83,247.42 342.57,244.48 343.10,241.60 C343.63,238.72 344.02,235.78 344.50,233.00 C344.98,230.22 345.32,227.97 346.00,224.90 C346.68,221.83 347.77,217.77 348.60,214.60 C349.43,211.43 350.23,208.30 351.00,205.90 C351.77,203.50 352.37,201.77 353.20,200.20 C354.03,198.63 355.03,197.35 356.00,196.50 C356.97,195.65 358.08,195.15 359.00,195.10 C359.92,195.05 360.67,195.60 361.50,196.20 C362.33,196.80 363.10,196.83 364.00,198.70 C364.90,200.57 366.07,204.52 366.90,207.40 C367.73,210.28 368.40,213.18 369.00,216.00 C369.60,218.82 369.90,221.23 370.50,224.30 C371.10,227.37 372.00,231.27 372.60,234.40 C373.20,237.53 373.62,240.22 374.10,243.10 C374.58,245.98 375.10,248.82 375.50,251.70 C375.90,254.58 376.15,257.93 376.50,260.40 C376.85,262.87 377.12,263.85 377.60,266.50 C378.08,269.15 378.85,272.80 379.40,276.30 C379.95,279.80 380.43,283.75 380.90,287.50 C381.37,291.25 381.77,295.05 382.20,298.80 C382.63,302.55 383.03,305.95 383.50,310.00 C383.97,314.05 384.67,320.25 385.00,323.10 C385.33,325.95 385.42,326.43 385.50,327.10" fill="none" stroke="#d9531a" stroke-width="1.4" stroke-dasharray="4.4 4.1"/>
<rect x="268.60" y="187.30" width="179.10" height="139.80" fill="none" stroke="#404040" stroke-width="1.3"/>
<path d="M268.60,327.10v-1.8M268.60,187.30v1.8" stroke="#404040" stroke-width="1.1"/>
<text x="268.60" y="336.40" text-anchor="middle" class="t">-15</text>
<path d="M298.45,327.10v-1.8M298.45,187.30v1.8" stroke="#404040" stroke-width="1.1"/>
<text x="298.45" y="336.40" text-anchor="middle" class="t">-10</text>
<path d="M328.30,327.10v-1.8M328.30,187.30v1.8" stroke="#404040" stroke-width="1.1"/>
<text x="328.30" y="336.40" text-anchor="middle" class="t">-5</text>
<path d="M358.15,327.10v-1.8M358.15,187.30v1.8" stroke="#404040" stroke-width="1.1"/>
<text x="358.15" y="336.40" text-anchor="middle" class="t">0</text>
<path d="M388.00,327.10v-1.8M388.00,187.30v1.8" stroke="#404040" stroke-width="1.1"/>
<text x="388.00" y="336.40" text-anchor="middle" class="t">5</text>
<path d="M417.85,327.10v-1.8M417.85,187.30v1.8" stroke="#404040" stroke-width="1.1"/>
<text x="417.85" y="336.40" text-anchor="middle" class="t">10</text>
<path d="M447.70,327.10v-1.8M447.70,187.30v1.8" stroke="#404040" stroke-width="1.1"/>
<text x="447.70" y="336.40" text-anchor="middle" class="t">15</text>
<path d="M268.60,327.10h1.8M447.70,327.10h-1.8" stroke="#404040" stroke-width="1.1"/>
<text x="266.00" y="329.80" text-anchor="end" class="t">0</text>
<path d="M268.60,311.57h1.8M447.70,311.57h-1.8" stroke="#404040" stroke-width="1.1"/>
<text x="266.00" y="314.27" text-anchor="end" class="t">0.02</text>
<path d="M268.60,296.03h1.8M447.70,296.03h-1.8" stroke="#404040" stroke-width="1.1"/>
<text x="266.00" y="298.73" text-anchor="end" class="t">0.04</text>
<path d="M268.60,280.50h1.8M447.70,280.50h-1.8" stroke="#404040" stroke-width="1.1"/>
<text x="266.00" y="283.20" text-anchor="end" class="t">0.06</text>
<path d="M268.60,264.97h1.8M447.70,264.97h-1.8" stroke="#404040" stroke-width="1.1"/>
<text x="266.00" y="267.67" text-anchor="end" class="t">0.08</text>
<path d="M268.60,249.43h1.8M447.70,249.43h-1.8" stroke="#404040" stroke-width="1.1"/>
<text x="266.00" y="252.13" text-anchor="end" class="t">0.1</text>
<path d="M268.60,233.90h1.8M447.70,233.90h-1.8" stroke="#404040" stroke-width="1.1"/>
<text x="266.00" y="236.60" text-anchor="end" class="t">0.12</text>
<path d="M268.60,218.37h1.8M447.70,218.37h-1.8" stroke="#404040" stroke-width="1.1"/>
<text x="266.00" y="221.07" text-anchor="end" class="t">0.14</text>
<path d="M268.60,202.83h1.8M447.70,202.83h-1.8" stroke="#404040" stroke-width="1.1"/>
<text x="266.00" y="205.53" text-anchor="end" class="t">0.16</text>
<path d="M268.60,187.30h1.8M447.70,187.30h-1.8" stroke="#404040" stroke-width="1.1"/>
<text x="266.00" y="190.00" text-anchor="end" class="t">0.18</text>
<text x="358.15" y="344.40" text-anchor="middle" class="l">y [nm]</text>
<text transform="translate(250.10,257.20) rotate(-90)" x="0" y="0" text-anchor="middle" class="l">P(y)</text>
<rect x="390.30" y="193.00" width="16.8" height="5.6" fill="#66aad7" stroke="#111" stroke-width="0.9"/>
<path d="M390.30,203.00h13.3" stroke="#d9531a" stroke-width="1.4" stroke-dasharray="4.3 4.7"/>
<text x="408.50" y="198.20" class="g">Simulations</text>
<text x="408.50" y="205.50" class="g">Theory</text>
<text x="232.10" y="194.60" class="L">e</text>
<rect x="501.70" y="314.20" width="4.98" height="12.90" fill="#66aad7" stroke="#111" stroke-width="0.9"/>
<rect x="506.68" y="289.20" width="4.98" height="37.90" fill="#66aad7" stroke="#111" stroke-width="0.9"/>
<rect x="511.66" y="267.30" width="4.98" height="59.80" fill="#66aad7" stroke="#111" stroke-width="0.9"/>
<rect x="516.63" y="257.30" width="4.98" height="69.80" fill="#66aad7" stroke="#111" stroke-width="0.9"/>
<rect x="521.61" y="230.40" width="4.98" height="96.70" fill="#66aad7" stroke="#111" stroke-width="0.9"/>
<rect x="526.59" y="218.30" width="4.98" height="108.80" fill="#66aad7" stroke="#111" stroke-width="0.9"/>
<rect x="531.57" y="202.50" width="4.98" height="124.60" fill="#66aad7" stroke="#111" stroke-width="0.9"/>
<rect x="536.54" y="191.50" width="4.98" height="135.60" fill="#66aad7" stroke="#111" stroke-width="0.9"/>
<rect x="541.52" y="202.50" width="4.98" height="124.60" fill="#66aad7" stroke="#111" stroke-width="0.9"/>
<rect x="546.50" y="212.20" width="4.98" height="114.90" fill="#66aad7" stroke="#111" stroke-width="0.9"/>
<rect x="551.48" y="210.50" width="4.98" height="116.60" fill="#66aad7" stroke="#111" stroke-width="0.9"/>
<rect x="556.46" y="220.60" width="4.98" height="106.50" fill="#66aad7" stroke="#111" stroke-width="0.9"/>
<rect x="561.43" y="226.70" width="4.98" height="100.40" fill="#66aad7" stroke="#111" stroke-width="0.9"/>
<rect x="566.41" y="227.60" width="4.98" height="99.50" fill="#66aad7" stroke="#111" stroke-width="0.9"/>
<rect x="571.39" y="242.30" width="4.98" height="84.80" fill="#66aad7" stroke="#111" stroke-width="0.9"/>
<rect x="576.37" y="250.60" width="4.98" height="76.50" fill="#66aad7" stroke="#111" stroke-width="0.9"/>
<rect x="581.34" y="260.70" width="4.98" height="66.40" fill="#66aad7" stroke="#111" stroke-width="0.9"/>
<rect x="586.32" y="265.30" width="4.98" height="61.80" fill="#66aad7" stroke="#111" stroke-width="0.9"/>
<rect x="591.30" y="273.90" width="4.98" height="53.20" fill="#66aad7" stroke="#111" stroke-width="0.9"/>
<rect x="596.28" y="272.30" width="4.98" height="54.80" fill="#66aad7" stroke="#111" stroke-width="0.9"/>
<rect x="601.26" y="275.40" width="4.98" height="51.70" fill="#66aad7" stroke="#111" stroke-width="0.9"/>
<rect x="606.23" y="278.50" width="4.98" height="48.60" fill="#66aad7" stroke="#111" stroke-width="0.9"/>
<rect x="611.21" y="285.40" width="4.98" height="41.70" fill="#66aad7" stroke="#111" stroke-width="0.9"/>
<rect x="616.19" y="316.30" width="4.98" height="10.80" fill="#66aad7" stroke="#111" stroke-width="0.9"/>
<path d="M501.90,327.10 C502.15,326.98 502.85,328.42 503.40,326.40 C503.95,324.38 504.52,319.08 505.20,315.00 C505.88,310.92 506.83,305.62 507.50,301.90 C508.17,298.18 508.72,295.38 509.20,292.70 C509.68,290.02 509.98,288.50 510.40,285.80 C510.82,283.10 511.18,279.57 511.70,276.50 C512.22,273.43 512.85,270.15 513.50,267.40 C514.15,264.65 514.87,262.68 515.60,260.00 C516.33,257.32 517.13,254.18 517.90,251.30 C518.67,248.42 519.53,245.67 520.20,242.70 C520.87,239.73 521.23,236.13 521.90,233.50 C522.57,230.87 523.23,229.43 524.20,226.90 C525.17,224.37 526.53,220.70 527.70,218.30 C528.87,215.90 529.85,214.33 531.20,212.50 C532.55,210.67 534.55,208.45 535.80,207.30 C537.05,206.15 537.78,205.98 538.70,205.60 C539.62,205.22 540.45,205.07 541.30,205.00 C542.15,204.93 542.98,204.92 543.80,205.20 C544.62,205.48 545.03,205.93 546.20,206.70 C547.37,207.47 549.75,209.03 550.80,209.80 C551.85,210.57 551.55,210.27 552.50,211.30 C553.45,212.33 555.53,214.83 556.50,216.00 C557.47,217.17 557.47,217.20 558.30,218.30 C559.13,219.40 560.35,220.78 561.50,222.60 C562.65,224.42 563.72,226.75 565.20,229.20 C566.68,231.65 568.87,234.88 570.40,237.30 C571.93,239.72 572.87,241.48 574.40,243.70 C575.93,245.92 577.77,248.15 579.60,250.60 C581.43,253.05 583.47,256.10 585.40,258.40 C587.33,260.70 589.18,262.70 591.20,264.40 C593.22,266.10 595.70,267.80 597.50,268.60 C599.30,269.40 600.65,269.03 602.00,269.20 C603.35,269.37 604.52,269.33 605.60,269.60 C606.68,269.87 607.55,269.93 608.50,270.80 C609.45,271.67 610.63,273.27 611.30,274.80 C611.97,276.33 612.20,278.37 612.50,280.00 C612.80,281.63 612.85,282.80 613.10,284.60 C613.35,286.40 613.57,288.25 614.00,290.80 C614.43,293.35 615.15,296.75 615.70,299.90 C616.25,303.05 616.62,306.42 617.30,309.70 C617.98,312.98 618.98,317.00 619.80,319.60 C620.62,322.20 621.52,324.15 622.20,325.30 C622.88,326.45 623.43,326.20 623.90,326.50 C624.37,326.80 624.82,327.00 625.00,327.10" fill="none" stroke="#d9531a" stroke-width="1.4" stroke-dasharray="4.4 4.1"/>
<rect x="501.70" y="187.30" width="179.20" height="139.80" fill="none" stroke="#404040" stroke-width="1.3"/>
<path d="M501.70,327.10v-1.8M501.70,187.30v1.8" stroke="#404040" stroke-width="1.1"/>
<text x="501.70" y="336.40" text-anchor="middle" class="t">0</text>
<path d="M521.61,327.10v-1.8M521.61,187.30v1.8" stroke="#404040" stroke-width="1.1"/>
<text x="521.61" y="336.40" text-anchor="middle" class="t">2</text>
<path d="M541.52,327.10v-1.8M541.52,187.30v1.8" stroke="#404040" stroke-width="1.1"/>
<text x="541.52" y="336.40" text-anchor="middle" class="t">4</text>
<path d="M561.43,327.10v-1.8M561.43,187.30v1.8" stroke="#404040" stroke-width="1.1"/>
<text x="561.43" y="336.40" text-anchor="middle" class="t">6</text>
<path d="M581.34,327.10v-1.8M581.34,187.30v1.8" stroke="#404040" stroke-width="1.1"/>
<text x="581.34" y="336.40" text-anchor="middle" class="t">8</text>
<path d="M601.26,327.10v-1.8M601.26,187.30v1.8" stroke="#404040" stroke-width="1.1"/>
<text x="601.26" y="336.40" text-anchor="middle" class="t">10</text>
<path d="M621.17,327.10v-1.8M621.17,187.30v1.8" stroke="#404040" stroke-width="1.1"/>
<text x="621.17" y="336.40" text-anchor="middle" class="t">12</text>
<path d="M641.08,327.10v-1.8M641.08,187.30v1.8" stroke="#404040" stroke-width="1.1"/>
<text x="641.08" y="336.40" text-anchor="middle" class="t">14</text>
<path d="M660.99,327.10v-1.8M660.99,187.30v1.8" stroke="#404040" stroke-width="1.1"/>
<text x="660.99" y="336.40" text-anchor="middle" class="t">16</text>
<path d="M680.90,327.10v-1.8M680.90,187.30v1.8" stroke="#404040" stroke-width="1.1"/>
<text x="680.90" y="336.40" text-anchor="middle" class="t">18</text>
<path d="M501.70,327.10h1.8M680.90,327.10h-1.8" stroke="#404040" stroke-width="1.1"/>
<text x="499.10" y="329.80" text-anchor="end" class="t">0</text>
<path d="M501.70,280.50h1.8M680.90,280.50h-1.8" stroke="#404040" stroke-width="1.1"/>
<text x="499.10" y="283.20" text-anchor="end" class="t">0.05</text>
<path d="M501.70,233.90h1.8M680.90,233.90h-1.8" stroke="#404040" stroke-width="1.1"/>
<text x="499.10" y="236.60" text-anchor="end" class="t">0.1</text>
<path d="M501.70,187.30h1.8M680.90,187.30h-1.8" stroke="#404040" stroke-width="1.1"/>
<text x="499.10" y="190.00" text-anchor="end" class="t">0.15</text>
<text x="591.30" y="344.40" text-anchor="middle" class="l">z [nm]</text>
<text transform="translate(483.20,257.20) rotate(-90)" x="0" y="0" text-anchor="middle" class="l">P(z)</text>
<rect x="623.50" y="193.00" width="16.8" height="5.6" fill="#66aad7" stroke="#111" stroke-width="0.9"/>
<path d="M623.50,203.00h13.3" stroke="#d9531a" stroke-width="1.4" stroke-dasharray="4.3 4.7"/>
<text x="641.70" y="198.20" class="g">Simulations</text>
<text x="641.70" y="205.50" class="g">Theory</text>
<text x="465.20" y="194.90" class="L">f</text>
</svg>
</body></html>
